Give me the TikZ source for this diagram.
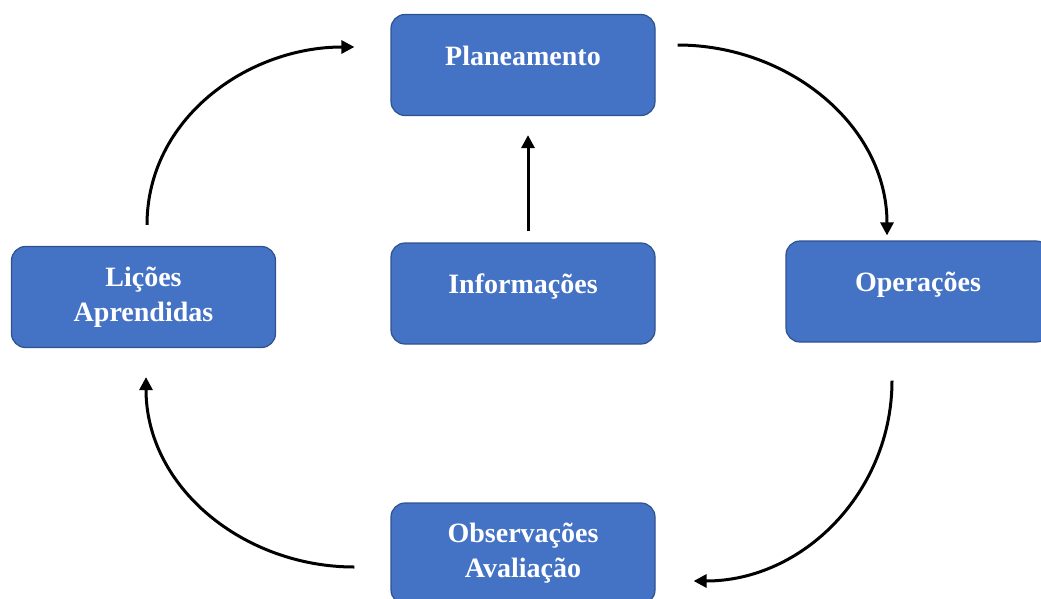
\documentclass[tikz,border=0pt]{standalone}
\usepackage{fontspec}
\setmainfont{Liberation Serif}
\usetikzlibrary{arrows.meta}
\definecolor{boxblue}{HTML}{4472C4}
\definecolor{boxedge}{HTML}{2F528F}

\begin{document}
\begin{tikzpicture}[x=1pt, y=1pt,
    every node/.style={rectangle, rounded corners=14pt, fill=boxblue, draw=boxedge, line width=1.2pt,
        minimum width=264pt, minimum height=101pt, inner sep=2pt, text=white, align=center,
        font=\fontsize{28}{35}\selectfont\bfseries},
    oneline/.style={text height=17pt, text depth=17pt},
    cyc/.style={line width=3pt, -{Triangle[length=13pt,width=13pt]}}]

    \useasboundingbox (0,0) rectangle (1041,-598);

    \node (plan) at (523,-65) [oneline] {Planeamento};
    \node (info) at (523,-293.5) [oneline] {Informações};
    \node (licoes) at (143.5,-297) {Lições\\Aprendidas};
    \node (oper) at (918,-291.5) [oneline] {Operações};
    \node (obs) at (523,-553.5) {Observações\\Avaliação};

    \draw[cyc] ([xshift=5pt,yshift=11pt]info.north) -- ([xshift=5pt,yshift=-19pt]plan.south);

    \draw[cyc] ([xshift=3.5pt,yshift=21pt]licoes.north) to[out=90, in=180] ([xshift=-36pt,yshift=18pt]plan.west);
    \draw[cyc] ([xshift=22pt,yshift=20pt]plan.east) to[out=0, in=90] ([xshift=-31pt,yshift=5pt]oper.north);
    \draw[cyc] ([xshift=-26pt,yshift=-38pt]oper.south) to[out=-90, in=0] ([xshift=38pt,yshift=-27.5pt]obs.east);
    \draw[cyc] ([xshift=-36pt,yshift=-13.5pt]obs.west) to[out=180, in=-90] ([xshift=2.5pt,yshift=-29pt]licoes.south);
\end{tikzpicture}
\end{document}
